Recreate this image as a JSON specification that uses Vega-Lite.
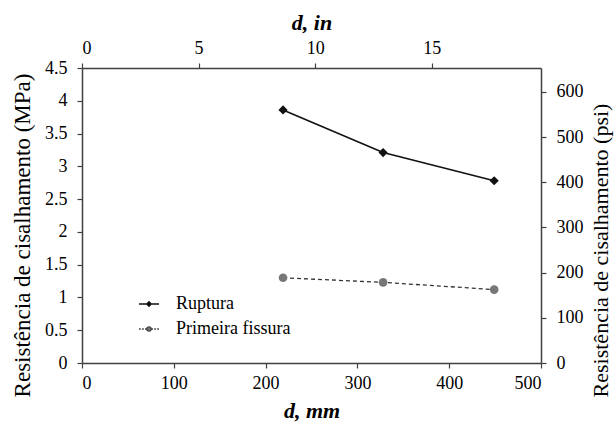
{
  "$schema": "https://vega.github.io/schema/vega-lite/v6.json",
  "autosize": "none",
  "width": 459,
  "height": 295,
  "padding": {"left": 82, "top": 68, "right": 73, "bottom": 60},
  "background": "white",
  "config": {
    "view": {"stroke": null},
    "font": "Liberation Serif, Times New Roman, serif",
    "axis": {
      "grid": false,
      "domainColor": "#404040",
      "domainWidth": 1.5,
      "tickColor": "#404040",
      "tickWidth": 1.2,
      "tickSize": 5,
      "labelFont": "Liberation Serif, Times New Roman, serif",
      "labelFontSize": 18,
      "labelColor": "black",
      "titleFont": "Liberation Serif, Times New Roman, serif",
      "titleColor": "black",
      "titleFontSize": 23,
      "titleFontWeight": "normal"
    }
  },
  "data": {
    "values": [
      {"serie": "Ruptura", "d_mm": 219, "d_in": 8.62, "mpa": 3.86, "psi": 560},
      {"serie": "Ruptura", "d_mm": 328, "d_in": 12.91, "mpa": 3.21, "psi": 466},
      {"serie": "Ruptura", "d_mm": 449, "d_in": 17.68, "mpa": 2.78, "psi": 403},
      {"serie": "Primeira fissura", "d_mm": 219, "d_in": 8.62, "mpa": 1.30, "psi": 189},
      {"serie": "Primeira fissura", "d_mm": 328, "d_in": 12.91, "mpa": 1.23, "psi": 178},
      {"serie": "Primeira fissura", "d_mm": 449, "d_in": 17.68, "mpa": 1.12, "psi": 162}
    ]
  },
  "layer": [
    {
      "encoding": {
        "x": {
          "field": "d_mm", "type": "quantitative",
          "scale": {"domain": [0, 500], "nice": false, "zero": false},
          "axis": {
            "orient": "bottom", "values": [0, 100, 200, 300, 400, 500],
            "title": "d, mm", "titleFontStyle": "italic", "titleFontWeight": "bold",
            "titleFontSize": 22,
            "labelPadding": 6, "titleBaseline": "alphabetic", "titleY": 54
          }
        },
        "y": {
          "field": "mpa", "type": "quantitative",
          "scale": {"domain": [0, 4.5], "nice": false, "zero": false},
          "axis": {
            "orient": "left", "values": [0, 0.5, 1, 1.5, 2, 2.5, 3, 3.5, 4, 4.5],
            "format": ".1~f",
            "title": "Resistência de cisalhamento (MPa)",
            "labelPadding": 10, "titleAngle": -90, "titleAlign": "center",
            "titleBaseline": "middle", "titleX": -60, "titleY": 167
          }
        }
      },
      "layer": [
        {
          "transform": [{"filter": "datum.serie === 'Ruptura'"}],
          "mark": {"type": "line", "color": "#111", "strokeWidth": 1.6},
          "encoding": {}
        },
        {
          "transform": [{"filter": "datum.serie === 'Primeira fissura'"}],
          "mark": {"type": "line", "color": "#333", "strokeWidth": 1.3, "strokeDash": [4, 3]},
          "encoding": {}
        },
        {
          "transform": [{"filter": "datum.serie === 'Ruptura'"}],
          "mark": {"type": "point", "shape": "diamond", "filled": true, "color": "#111", "size": 85, "opacity": 1}
        },
        {
          "transform": [{"filter": "datum.serie === 'Primeira fissura'"}],
          "mark": {"type": "point", "shape": "circle", "filled": true, "color": "#777", "size": 75, "opacity": 1}
        },
        {
          "mark": {"type": "point", "filled": true, "opacity": 0, "size": 400},
          "encoding": {
            "shape": {
              "field": "serie", "type": "nominal",
              "scale": {
                "domain": ["Ruptura", "Primeira fissura"],
                "range": [
                  "M-2,0H2M0,-0.45L0.45,0L0,0.45L-0.45,0Z",
                  "M-2,0H-1.65M-1.4,0H-1.05M-0.8,0H-0.45M0.45,0H0.8M1.05,0H1.4M1.65,0H2M0.42,0A0.42,0.42 0 1,1 -0.42,0A0.42,0.42 0 1,1 0.42,0Z"
                ]
              },
              "legend": {
                "title": null, "orient": "none", "legendX": 58, "legendY": 227,
                "padding": 0, "rowPadding": 7, "labelOffset": 18,
                "labelFont": "Liberation Serif, Times New Roman, serif", "labelFontSize": 18, "labelColor": "black",
                "symbolOpacity": 1, "symbolStrokeWidth": 1.4,
                "encode": {"symbols": {"update": {"opacity": {"value": 1}}}}
              }
            },
            "fill": {
              "field": "serie", "type": "nominal",
              "scale": {"domain": ["Ruptura", "Primeira fissura"], "range": ["#111", "#777"]}
            },
            "stroke": {
              "field": "serie", "type": "nominal",
              "scale": {"domain": ["Ruptura", "Primeira fissura"], "range": ["#111", "#444"]}
            }
          }
        }
      ]
    },
    {
      "mark": {"type": "point", "opacity": 0},
      "encoding": {
        "x": {
          "field": "d_in", "type": "quantitative",
          "scale": {"domain": [0, 19.685], "nice": false, "zero": false},
          "axis": {
            "orient": "top", "values": [0, 5, 10, 15],
            "title": "d, in", "titleFontStyle": "italic", "titleFontWeight": "bold",
            "titleFontSize": 22,
            "labelPadding": 6, "titleBaseline": "middle", "titleY": -46
          }
        },
        "y": {
          "field": "psi", "type": "quantitative",
          "scale": {"domain": [0, 652.67], "nice": false, "zero": false},
          "axis": {
            "orient": "right", "values": [0, 100, 200, 300, 400, 500, 600],
            "title": "Resistência de cisalhamento (psi)",
            "titleFontSize": 22,
            "labelPadding": 10, "titleAngle": -90, "titleAlign": "center",
            "titleBaseline": "middle", "titleX": 59, "titleY": 182
          }
        }
      }
    }
  ],
  "resolve": {"scale": {"x": "independent", "y": "independent"}}
}
